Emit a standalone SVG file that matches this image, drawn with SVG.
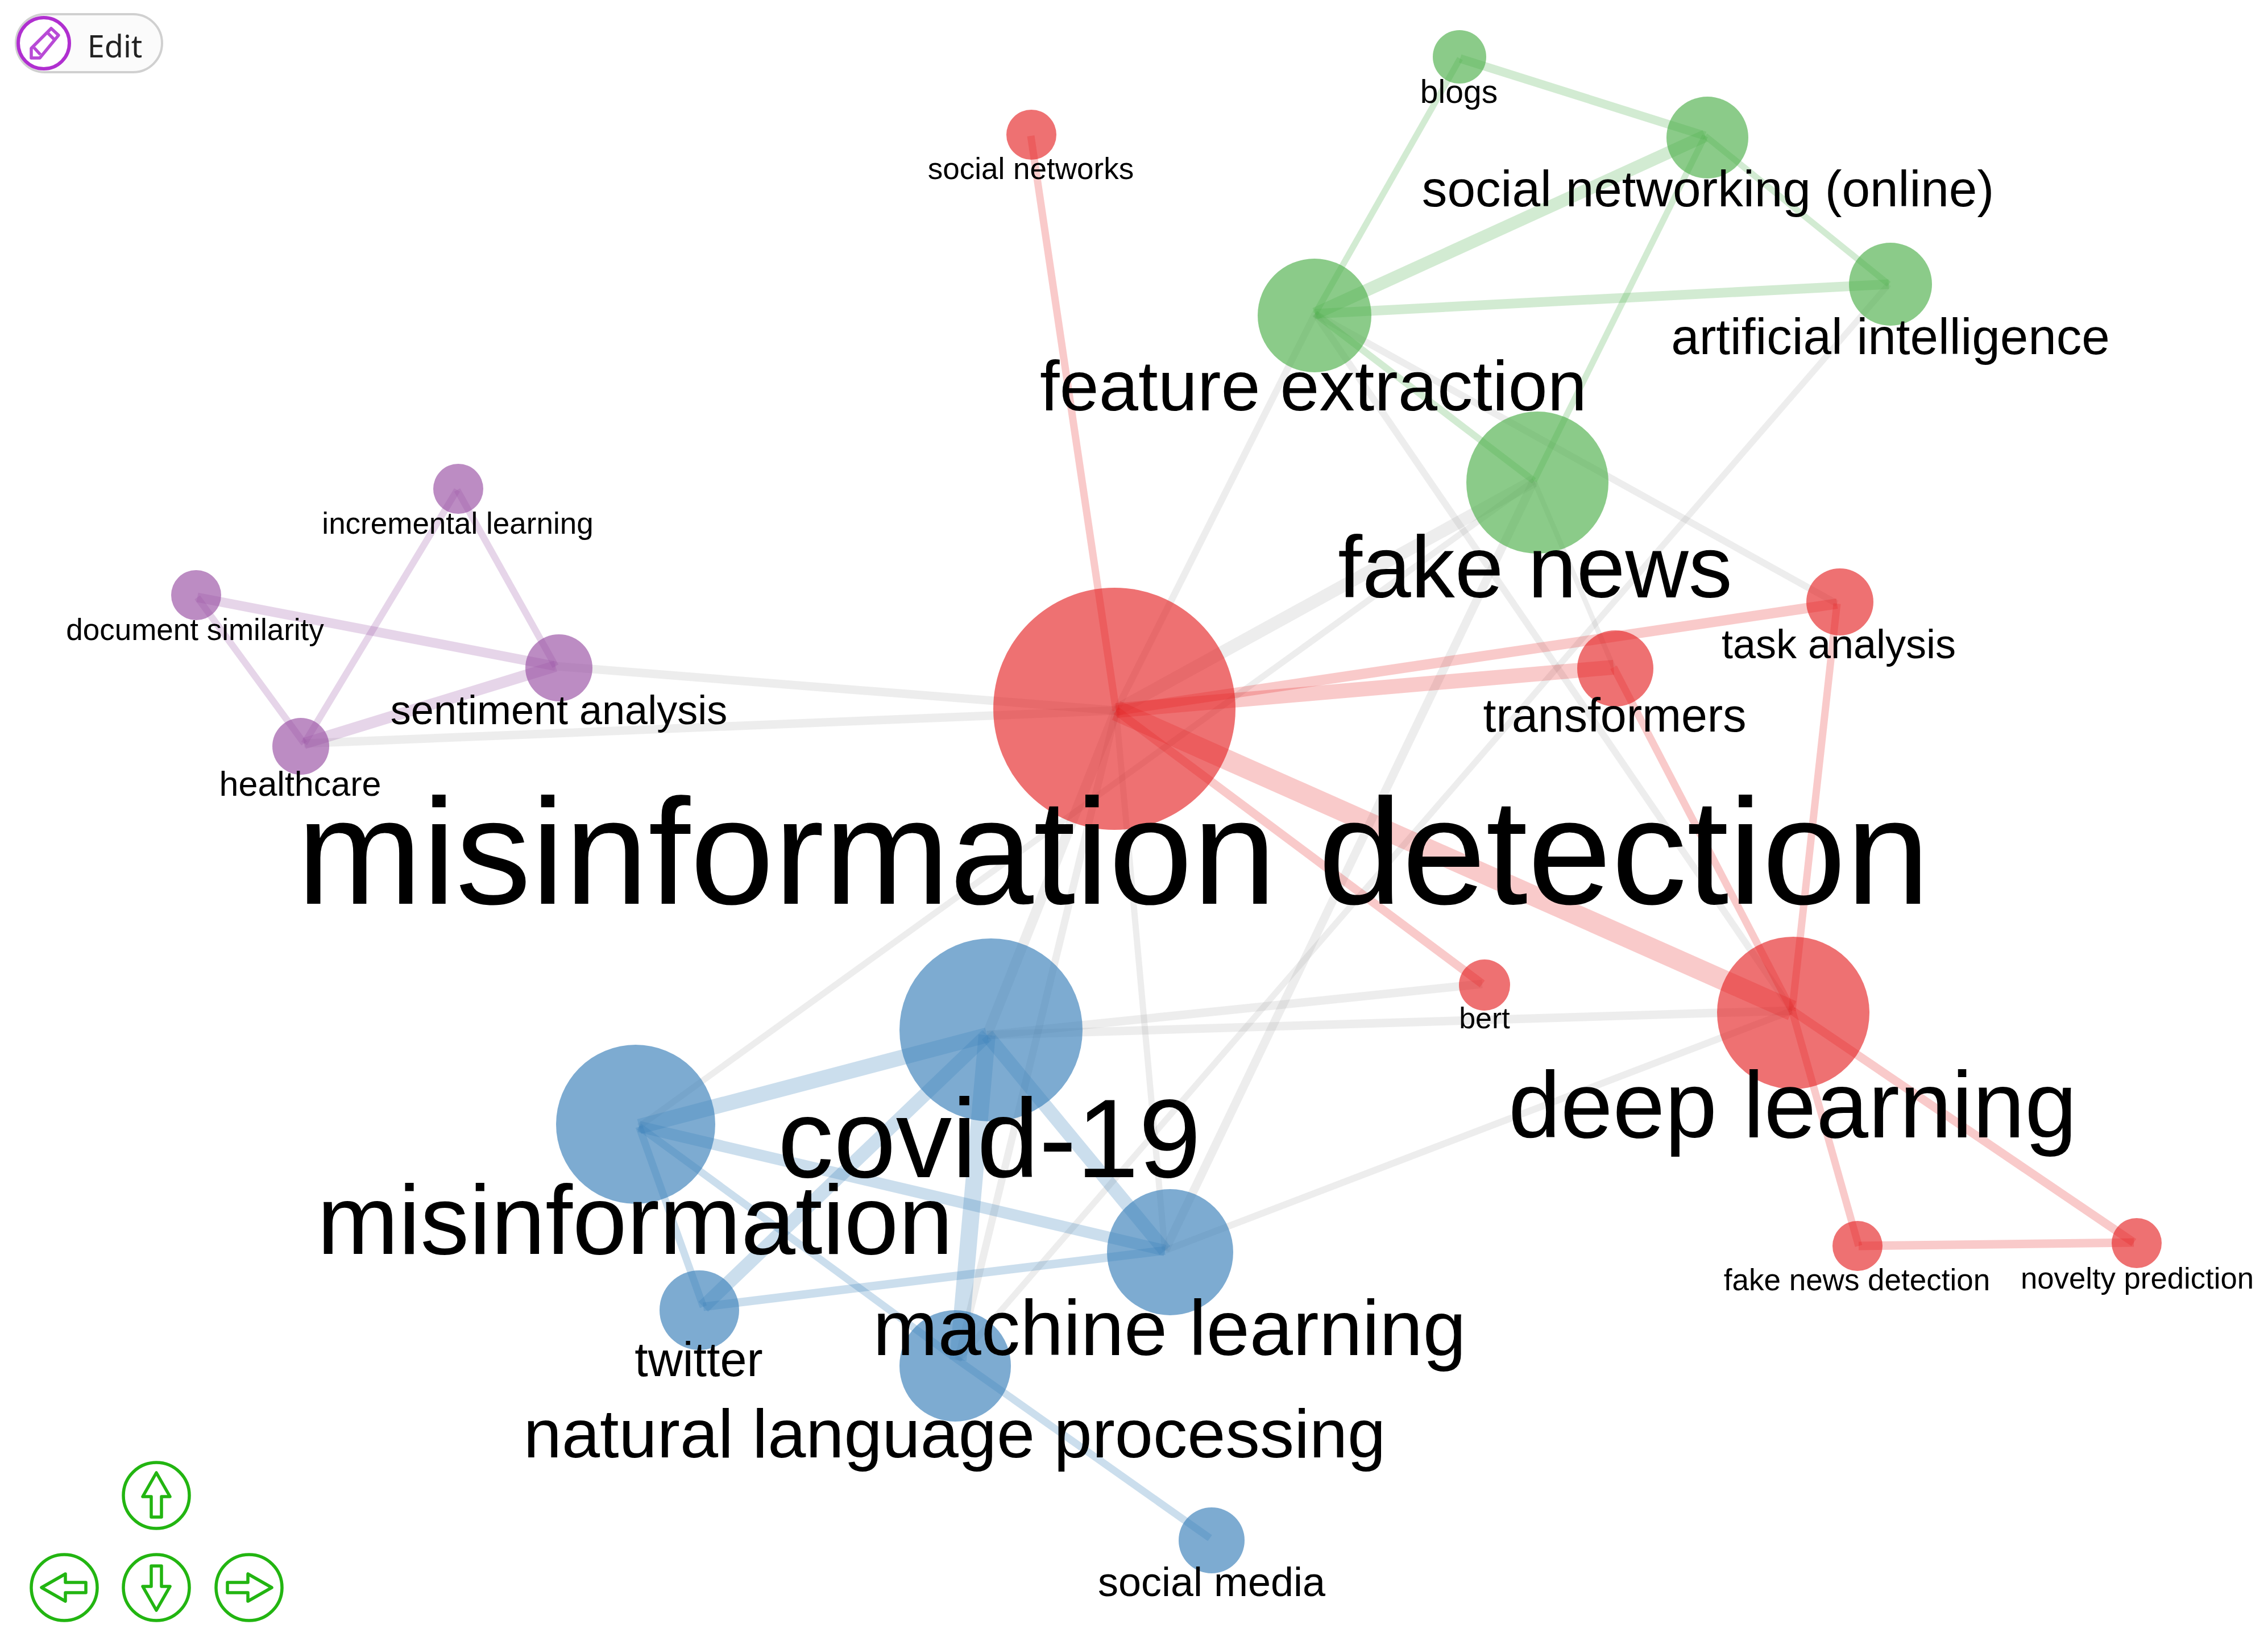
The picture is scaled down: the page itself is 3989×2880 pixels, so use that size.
<svg xmlns="http://www.w3.org/2000/svg" width="3989" height="2880" viewBox="0 0 3989 2880">
<style>
text{font-family:"Liberation Sans",Arial,sans-serif;fill:#000;text-anchor:middle}
.e{fill:none;stroke-linecap:butt}
.r{stroke:#e41a1c;stroke-opacity:.23}
.g{stroke:#4daf4a;stroke-opacity:.25}
.b{stroke:#377eb8;stroke-opacity:.26}
.p{stroke:#984ea3;stroke-opacity:.24}
.x{stroke:#999;stroke-opacity:.18}
.nr{fill:#e41a1c;fill-opacity:.62}
.ng{fill:#4daf4a;fill-opacity:.65}
.nb{fill:#377eb8;fill-opacity:.65}
.np{fill:#984ea3;fill-opacity:.65}
.btn{fill:none;stroke:#22b511;stroke-width:5.5;stroke-linejoin:round}
</style>
<defs>
<g id="arrow"><circle class="btn" r="58"/><path class="btn" d="M0,-40L-24,2L-9,2L-9,38L9,38L9,2L24,2Z"/></g>
</defs>
<rect width="3989" height="2880" fill="#fff"/>
<g id="connectors" class="e">
<line class="x" x1="977" y1="1172" x2="1963" y2="1250" stroke-width="15"/>
<line class="x" x1="535" y1="1308" x2="1963" y2="1250" stroke-width="15"/>
<line class="x" x1="2313" y1="552" x2="1963" y2="1250" stroke-width="12"/>
<line class="x" x1="2698" y1="846" x2="1963" y2="1250" stroke-width="22"/>
<line class="x" x1="2698" y1="846" x2="1124" y2="1982" stroke-width="11"/>
<line class="x" x1="2698" y1="846" x2="2049" y2="2200" stroke-width="15"/>
<line class="x" x1="3322" y1="500" x2="1685" y2="2393" stroke-width="11"/>
<line class="x" x1="2313" y1="552" x2="3152" y2="1778" stroke-width="12"/>
<line class="x" x1="2313" y1="552" x2="3231" y2="1062" stroke-width="12"/>
<line class="x" x1="2698" y1="846" x2="2838" y2="1174" stroke-width="9"/>
<line class="x" x1="1736" y1="1821" x2="1963" y2="1250" stroke-width="18"/>
<line class="x" x1="1685" y1="2393" x2="1963" y2="1250" stroke-width="13"/>
<line class="x" x1="2049" y1="2200" x2="1963" y2="1250" stroke-width="11"/>
<line class="x" x1="1736" y1="1821" x2="2607" y2="1731" stroke-width="15"/>
<line class="x" x1="1736" y1="1821" x2="3152" y2="1778" stroke-width="15"/>
<line class="x" x1="2049" y1="2200" x2="3152" y2="1778" stroke-width="12"/>
<line class="g" x1="2568" y1="103" x2="2999" y2="239" stroke-width="15"/>
<line class="g" x1="2568" y1="103" x2="2313" y2="552" stroke-width="11"/>
<line class="g" x1="2313" y1="552" x2="2999" y2="239" stroke-width="22"/>
<line class="g" x1="2313" y1="552" x2="3322" y2="500" stroke-width="17"/>
<line class="g" x1="2999" y1="239" x2="3322" y2="500" stroke-width="11"/>
<line class="g" x1="2999" y1="239" x2="2698" y2="846" stroke-width="11"/>
<line class="g" x1="2313" y1="552" x2="2698" y2="846" stroke-width="12"/>
<line class="r" x1="1813" y1="239" x2="1963" y2="1250" stroke-width="13"/>
<line class="r" x1="1963" y1="1250" x2="3231" y2="1062" stroke-width="18"/>
<line class="r" x1="1963" y1="1250" x2="2838" y2="1174" stroke-width="26"/>
<line class="r" x1="1963" y1="1250" x2="3152" y2="1778" stroke-width="36"/>
<line class="r" x1="1963" y1="1250" x2="2607" y2="1731" stroke-width="15"/>
<line class="r" x1="2838" y1="1174" x2="3152" y2="1778" stroke-width="13"/>
<line class="r" x1="3231" y1="1062" x2="3152" y2="1778" stroke-width="13"/>
<line class="r" x1="3152" y1="1778" x2="3269" y2="2192" stroke-width="13"/>
<line class="r" x1="3152" y1="1778" x2="3753" y2="2186" stroke-width="15"/>
<line class="r" x1="3269" y1="2192" x2="3753" y2="2186" stroke-width="15"/>
<line class="b" x1="1124" y1="1982" x2="1736" y2="1821" stroke-width="27"/>
<line class="b" x1="1736" y1="1821" x2="2049" y2="2200" stroke-width="24"/>
<line class="b" x1="1736" y1="1821" x2="1237" y2="2299" stroke-width="24"/>
<line class="b" x1="1736" y1="1821" x2="1685" y2="2393" stroke-width="30"/>
<line class="b" x1="1124" y1="1982" x2="2049" y2="2200" stroke-width="20"/>
<line class="b" x1="1124" y1="1982" x2="1237" y2="2299" stroke-width="13"/>
<line class="b" x1="1124" y1="1982" x2="1685" y2="2393" stroke-width="13"/>
<line class="b" x1="1237" y1="2299" x2="2049" y2="2200" stroke-width="15"/>
<line class="b" x1="1685" y1="2393" x2="2128" y2="2706" stroke-width="13"/>
<line class="p" x1="804" y1="862" x2="977" y2="1172" stroke-width="12"/>
<line class="p" x1="804" y1="862" x2="535" y2="1308" stroke-width="12"/>
<line class="p" x1="347" y1="1051" x2="977" y2="1172" stroke-width="17"/>
<line class="p" x1="347" y1="1051" x2="535" y2="1308" stroke-width="12"/>
<line class="p" x1="977" y1="1172" x2="535" y2="1308" stroke-width="20"/>
</g>
<g id="n-misinformation-detection"><circle class="nr" cx="1960" cy="1247" r="213"/><text x="1958" y="1590" font-size="265">misinformation detection</text></g>
<g id="n-social-networks"><circle class="nr" cx="1814" cy="237" r="44"/><text x="1813" y="315" font-size="53">social networks</text></g>
<g id="n-blogs"><circle class="ng" cx="2567" cy="100" r="47"/><text x="2566" y="181" font-size="57">blogs</text></g>
<g id="n-social-networking"><circle class="ng" cx="3003" cy="242" r="72"/><text x="3004" y="363" font-size="89.2">social networking (online)</text></g>
<g id="n-feature-extraction"><circle class="ng" cx="2312" cy="555" r="100"/><text x="2310" y="722" font-size="124.5">feature extraction</text></g>
<g id="n-artificial-intelligence"><circle class="ng" cx="3325" cy="500" r="73"/><text x="3325" y="623" font-size="89">artificial intelligence</text></g>
<g id="n-fake-news"><circle class="ng" cx="2704" cy="849" r="125"/><text x="2700" y="1051" font-size="154">fake news</text></g>
<g id="n-task-analysis"><circle class="nr" cx="3236" cy="1059" r="59"/><text x="3234" y="1158" font-size="72">task analysis</text></g>
<g id="n-transformers"><circle class="nr" cx="2841" cy="1176" r="67"/><text x="2840" y="1287" font-size="82.5">transformers</text></g>
<g id="n-covid-19"><circle class="nb" cx="1743" cy="1812" r="161"/><text x="1740" y="2071" font-size="197">covid-19</text></g>
<g id="n-misinformation"><circle class="nb" cx="1118" cy="1978" r="140"/><text x="1117" y="2206" font-size="172">misinformation</text></g>
<g id="n-natural-language-processing"><circle class="nb" cx="1680" cy="2403" r="98"/><text x="1679" y="2564" font-size="120.7">natural language processing</text></g>
<g id="n-machine-learning"><circle class="nb" cx="2058" cy="2203" r="111"/><text x="2057" y="2384" font-size="137">machine learning</text></g>
<g id="n-twitter"><circle class="nb" cx="1230" cy="2305" r="70"/><text x="1229" y="2421" font-size="84.5">twitter</text></g>
<g id="n-social-media"><circle class="nb" cx="2131" cy="2710" r="58"/><text x="2131" y="2808" font-size="72">social media</text></g>
<g id="n-bert"><circle class="nr" cx="2611" cy="1733" r="45"/><text x="2611" y="1809" font-size="52">bert</text></g>
<g id="n-deep-learning"><circle class="nr" cx="3154" cy="1782" r="134"/><text x="3153" y="2001" font-size="165">deep learning</text></g>
<g id="n-fake-news-detection"><circle class="nr" cx="3267" cy="2192" r="44"/><text x="3266" y="2270" font-size="53">fake news detection</text></g>
<g id="n-novelty-prediction"><circle class="nr" cx="3758" cy="2187" r="44"/><text x="3759" y="2267" font-size="52.7">novelty prediction</text></g>
<g id="n-incremental-learning"><circle class="np" cx="806" cy="860" r="44"/><text x="805" y="939" font-size="53">incremental learning</text></g>
<g id="n-document-similarity"><circle class="np" cx="345" cy="1047" r="44"/><text x="343" y="1126" font-size="53">document similarity</text></g>
<g id="n-sentiment-analysis"><circle class="np" cx="983" cy="1175" r="59"/><text x="983" y="1274" font-size="72">sentiment analysis</text></g>
<g id="n-healthcare"><circle class="np" cx="529" cy="1313" r="50"/><text x="528" y="1400" font-size="61">healthcare</text></g>
<g id="edit-button">
<rect x="28" y="25" width="257" height="102" rx="51" fill="#fbfbfb" stroke="#d0d0d0" stroke-width="4"/>
<circle cx="77" cy="76" r="45" fill="#fff" stroke="#b02fd0" stroke-width="6"/>
<path d="M55,102L55,85L90,50L103,62L70,102Z M83,57L96,70 M60,84L71,96" fill="none" stroke="#b84ad6" stroke-width="5.5" stroke-linejoin="round"/>
<text x="202" y="101" font-size="54" style="font-family:'Noto Sans',sans-serif;fill:#222">Edit</text>
</g>
<g id="nav-buttons">
<use href="#arrow" transform="translate(275,2631)"/>
<use href="#arrow" transform="translate(113,2793) rotate(-90)"/>
<use href="#arrow" transform="translate(275,2793) rotate(180)"/>
<use href="#arrow" transform="translate(438,2793) rotate(90)"/>
</g>
</svg>
